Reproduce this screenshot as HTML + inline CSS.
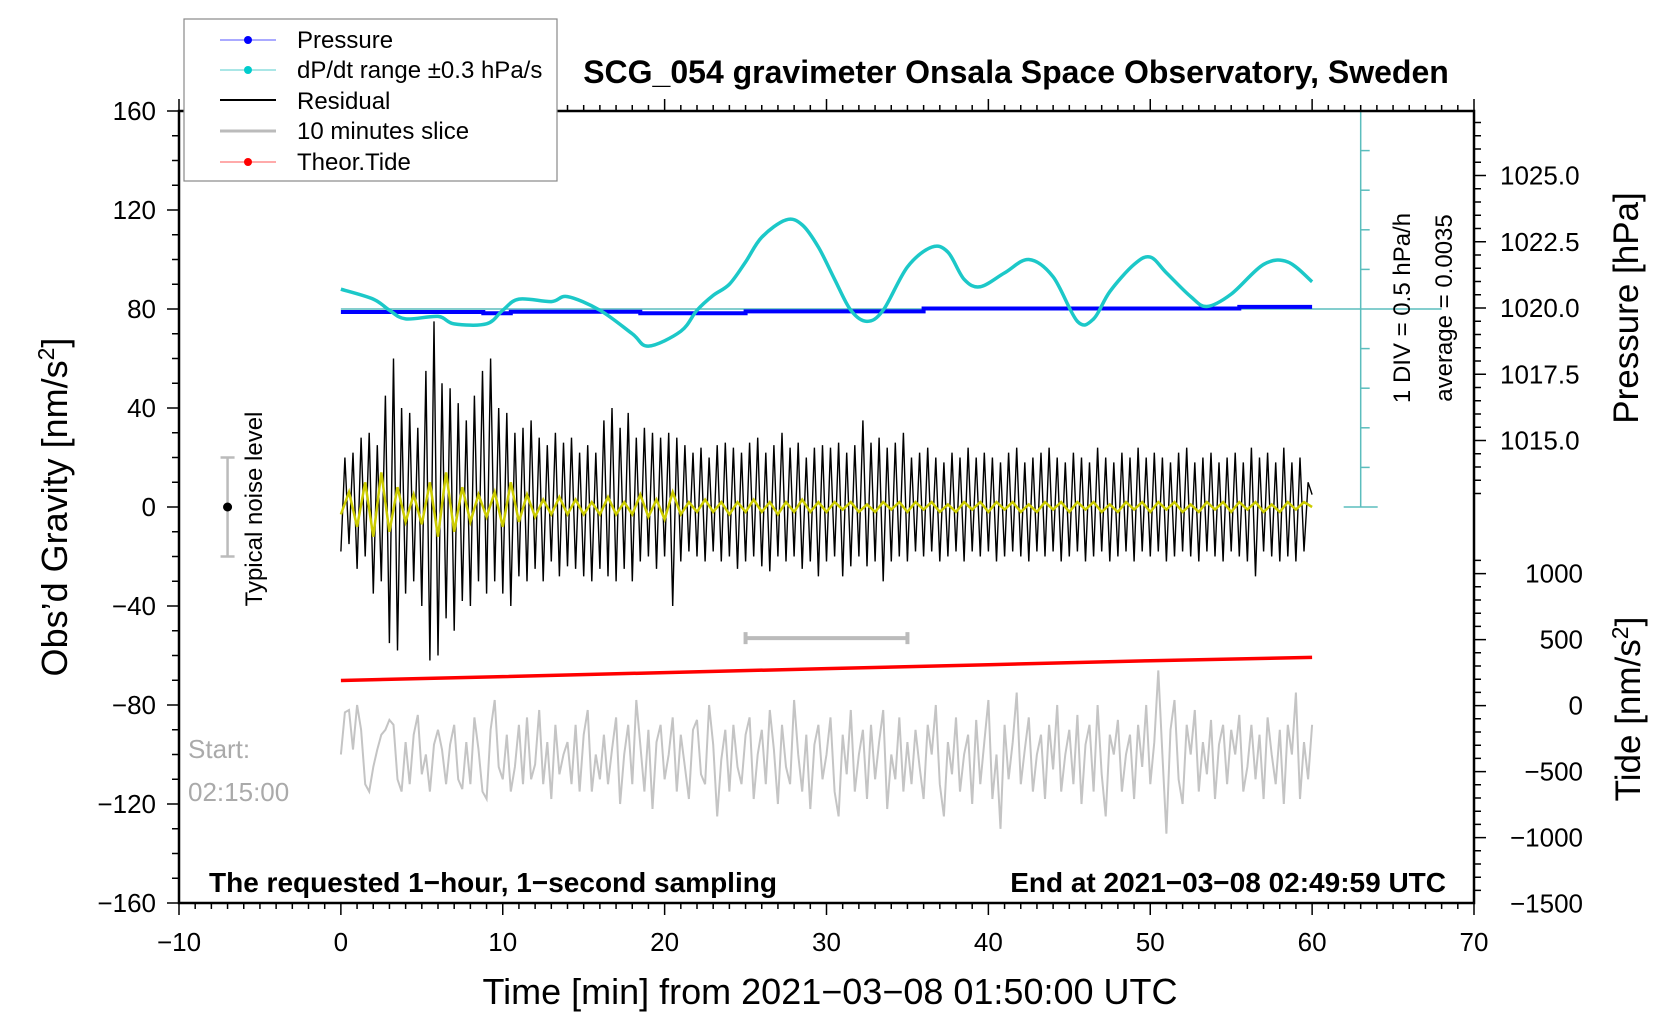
<!DOCTYPE html>
<html><head><meta charset="utf-8">
<style>
html,body{margin:0;padding:0;background:#fff;}
svg{display:block;font-family:"Liberation Sans",sans-serif;}
</style></head>
<body>
<svg id="chart" width="1676" height="1020" viewBox="0 0 1676 1020" xmlns="http://www.w3.org/2000/svg">
<rect width="1676" height="1020" fill="#fff"/>
<g id="marks"></g>
<g id="axes"></g>
<text x="1016" y="83" text-anchor="middle" font-size="32" font-weight="bold">SCG_054 gravimeter Onsala Space Observatory, Sweden</text>
<text x="830" y="1004" text-anchor="middle" font-size="36">Time [min] from 2021−03−08 01:50:00 UTC</text>
<text transform="translate(67,507) rotate(-90)" text-anchor="middle" font-size="36">Obs’d Gravity [nm/s<tspan dy="-13" font-size="23">2</tspan><tspan dy="13">]</tspan></text>
<text transform="translate(1638,308) rotate(-90)" text-anchor="middle" font-size="35">Pressure [hPa]</text>
<text transform="translate(1640,709) rotate(-90)" text-anchor="middle" font-size="35">Tide [nm/s<tspan dy="-12" font-size="23">2</tspan><tspan dy="12">]</tspan></text>
<text x="209" y="892" font-size="28" font-weight="bold">The requested 1−hour, 1−second sampling</text>
<text x="1446" y="892" text-anchor="end" font-size="28" font-weight="bold">End at 2021−03−08 02:49:59 UTC</text>
<text x="188" y="758" font-size="26" fill="#aaa">Start:</text>
<text x="188" y="801" font-size="26" fill="#aaa">02:15:00</text>
<text transform="translate(262,509) rotate(-90)" text-anchor="middle" font-size="24">Typical noise level</text>
<text transform="translate(1410,308) rotate(-90)" text-anchor="middle" font-size="24">1 DIV = 0.5 hPa/h</text>
<text transform="translate(1452,308) rotate(-90)" text-anchor="middle" font-size="24">average = 0.0035</text>
<g>
<rect x="184" y="19" width="373" height="162" fill="#fff" stroke="#888" stroke-width="1.2"/>
<g><line x1="220" y1="40" x2="276" y2="40" stroke="#55f" stroke-width="1"/><circle cx="248" cy="40" r="4" fill="#00f"/><text x="297" y="48" font-size="24">Pressure</text></g>
<g><line x1="220" y1="70" x2="276" y2="70" stroke="#5cc" stroke-width="1"/><circle cx="248" cy="70" r="4" fill="#0cc"/><text x="297" y="78" font-size="24">dP/dt range ±0.3 hPa/s</text></g>
<g><line x1="220" y1="100" x2="276" y2="100" stroke="#000" stroke-width="2"/><text x="297" y="109" font-size="24">Residual</text></g>
<g><line x1="220" y1="131" x2="276" y2="131" stroke="#bbb" stroke-width="3"/><text x="297" y="139" font-size="24">10 minutes slice</text></g>
<g><line x1="220" y1="162" x2="276" y2="162" stroke="#f55" stroke-width="1"/><circle cx="248" cy="162" r="4" fill="#f00"/><text x="297" y="170" font-size="24">Theor.Tide</text></g>
</g>
</svg>
<script>
// ---- data ----
const xTicks = [-10,0,10,20,30,40,50,60,70];
const yTicks = [160,120,80,40,0,-40,-80,-120,-160];
const pressureTicks = [1025.0,1022.5,1020.0,1017.5,1015.0];
const tideTicks = [1000,500,0,-500,-1000,-1500];
const residualStep = 0.25;
const residual = [
-18,20,-15,22,-25,28,-20,30,-35,25,-30,45,-55,60,-58,40,-35,38,-30,32,
-40,55,-62,75,-60,50,-45,48,-50,42,-38,35,-40,45,-30,55,-35,60,-30,40,
-35,38,-40,30,-28,32,-30,35,-25,28,-30,25,-22,30,-28,26,-24,28,-25,22,
-28,25,-30,22,-25,35,-28,40,-30,32,-25,38,-30,28,-22,32,-20,30,-25,28,
-20,30,-40,28,-22,25,-18,22,-20,24,-22,20,-18,25,-22,26,-20,24,-25,22,
-22,26,-20,28,-24,22,-26,25,-20,30,-22,24,-20,26,-25,20,-22,24,-28,25,
-22,24,-20,26,-28,22,-24,25,-20,35,-24,26,-22,28,-30,24,-22,26,-20,30,
-22,20,-18,22,-20,24,-18,20,-22,18,-20,22,-18,20,-22,24,-18,20,-20,22,
-18,20,-22,18,-20,22,-18,24,-20,18,-22,20,-18,22,-20,24,-18,20,-22,18,
-20,22,-18,20,-22,18,-20,24,-18,20,-22,18,-20,22,-18,20,-22,24,-18,20,
-20,22,-18,20,-22,18,-20,22,-18,24,-20,18,-22,20,-18,22,-20,18,-22,20,
-18,22,-20,18,-22,24,-28,20,-18,22,-20,18,-22,24,-20,18,-22,20,-18,10,5];
const filteredStep = 0.5;
const filtered = [
-3,6,-8,10,-12,14,-10,8,-6,5,
-7,10,-12,14,-10,8,-6,5,-4,6,
-8,10,-6,5,-4,3,-3,4,-3,3,
-3,2,-3,4,-3,2,-3,5,-4,3,
-5,6,-3,2,-2,3,-2,2,-3,2,
-2,3,-2,2,-3,2,-2,3,-2,2,
-2,2,-1,2,-2,1,-2,2,-1,2,-2,2,-1,2,-2,1,-2,2,-1,2,
-2,2,-1,2,-2,1,-2,2,-1,2,-2,2,-1,2,-2,1,-2,2,-1,2,
-2,2,-1,2,-2,1,-2,2,-1,2,-2,2,-1,2,-2,1,-2,2,-1,2,0];
const sliceStep = 0.25;
const slice = [
-100,-83,-82,-98,-80,-90,-112,-115,-105,-98,-92,-90,-86,-88,-110,-115,-95,-112,-92,-84,
-108,-100,-115,-96,-90,-98,-112,-96,-88,-110,-114,-95,-112,-85,-98,-115,-118,-90,-78,-105,
-110,-92,-115,-105,-88,-112,-85,-110,-104,-82,-112,-95,-118,-88,-108,-100,-95,-112,-88,-115,
-92,-82,-115,-100,-110,-92,-112,-98,-85,-120,-100,-88,-112,-78,-96,-115,-90,-122,-95,-88,
-110,-100,-85,-115,-92,-105,-118,-90,-86,-108,-112,-80,-96,-125,-102,-90,-115,-88,-105,-112,
-92,-85,-118,-100,-90,-112,-82,-98,-120,-88,-105,-112,-78,-100,-115,-92,-122,-96,-88,-110,
-100,-85,-115,-125,-92,-108,-82,-115,-100,-90,-118,-88,-110,-95,-82,-122,-100,-110,-85,-115,
-95,-112,-90,-105,-118,-88,-100,-80,-112,-125,-95,-108,-85,-115,-100,-92,-120,-86,-112,-95,
-78,-118,-100,-130,-88,-110,-95,-75,-112,-98,-85,-115,-100,-92,-118,-88,-106,-80,-115,-100,
-90,-112,-84,-120,-96,-88,-115,-80,-108,-125,-92,-100,-86,-115,-100,-92,-118,-88,-105,-80,
-112,-95,-66,-100,-132,-90,-78,-110,-120,-88,-100,-82,-115,-95,-108,-86,-118,-96,-88,-112,
-90,-100,-84,-115,-105,-88,-110,-92,-118,-85,-100,-112,-90,-120,-88,-100,-75,-118,-95,-110,-88];
const dpdtMinutes = [0,2,3,4,6,7,9,10,11,13,14,16,18,19,21,22,23,24,25,26,27.5,28.5,29.5,30.5,31.5,32.5,33.5,35,36.5,37.5,38.5,39.5,41,42.5,44,45.5,46.5,47.5,49,50,51,52.5,53.5,55,57,58.5,60];
const dpdtValues = [88,84,79.5,76,77,74,74,79.5,84,83,85,79.5,70,65,71,79.5,85.5,90,99,109,116,114,105,92,79.5,75,79.5,97,105,103,92,89,94.6,100,93,75,76,87,98,101,94.6,85,81,86,98,99,91];
const pressureMinutes = [0,8.8,8.8,10.5,10.5,18.5,18.5,25,25,36,36,55.5,55.5,60];
const pressureValues = [1019.85,1019.85,1019.8,1019.8,1019.86,1019.86,1019.8,1019.8,1019.87,1019.87,1019.98,1019.98,1020.04,1020.04];
const tideMinutes = [0,10,20,30,40,50,60];
const tideValues = [190,220,250,280,310,340,365];
const noiseCenter = 0, noiseHalf = 20, noiseX = -7;
const sliceBarRange = [25,35], sliceBarY = -53;

// ---- scales ----
const L=179,R=1474,T=111,B=903;
const X=m=>L+(m+10)*(R-L)/80;
const Y=g=>507-g*(B-T)/320;
const YP=p=>308-(p-1020)*26.5;
const YT=t=>705.6-t*66/500;
const NS='http://www.w3.org/2000/svg';
const marks=document.getElementById('marks'), axes=document.getElementById('axes');
function mk(tag,attrs,parent){const e=document.createElementNS(NS,tag);for(const k in attrs)e.setAttribute(k,attrs[k]);(parent||marks).appendChild(e);return e;}
function poly(pts){return pts.map(p=>p[0].toFixed(1)+','+p[1].toFixed(1)).join(' ');}

let e=mk('polyline',{points:poly(slice.map((v,i)=>[X(i*sliceStep),Y(v)])),fill:'none',stroke:'#c4c4c4','stroke-width':2});


e=mk('polyline',{points:poly(tideValues.map((v,i)=>[X(tideMinutes[i]),YT(v)])),fill:'none',stroke:'#f00','stroke-width':3.5});


e=mk('path',{d:`M${X(sliceBarRange[0])},${Y(sliceBarY)}H${X(sliceBarRange[1])}M${X(sliceBarRange[0])},${Y(sliceBarY)-6}v12M${X(sliceBarRange[1])},${Y(sliceBarY)-6}v12`,stroke:'#bbb','stroke-width':4,fill:'none'});


e=mk('path',{d:`M${X(noiseX)},${Y(noiseCenter+noiseHalf)}V${Y(noiseCenter-noiseHalf)}M${X(noiseX)-7},${Y(noiseHalf)}h14M${X(noiseX)-7},${Y(-noiseHalf)}h14`,stroke:'#bbb','stroke-width':2.5,fill:'none'});


e=mk('circle',{cx:X(noiseX),cy:Y(noiseCenter),r:4.5,fill:'#000'});


e=mk('polyline',{points:poly(residual.map((v,i)=>[X(i*residualStep),Y(v)])),fill:'none',stroke:'#000','stroke-width':1.4});


e=mk('polyline',{points:poly(filtered.map((v,i)=>[X(i*filteredStep),Y(v)])),fill:'none',stroke:'#cc0','stroke-width':2.5});


const cx=X(63);
e=mk('path',{d:`M${X(0)},${Y(80)}H${X(68)}M${cx},${T}V${Y(0)}M${cx-17},${T}h34M${cx-17},${Y(0)}h34`,stroke:'#5bbdbd','stroke-width':1.5,fill:'none'});


for(let k=1;k<10;k++){if(k===5)continue;e=mk('line',{x1:cx,x2:cx+9,y1:Y(k*16),y2:Y(k*16),stroke:'#5bbdbd','stroke-width':1.5});

}
e=mk('polyline',{points:poly(pressureValues.map((v,i)=>[X(pressureMinutes[i]),YP(v)])),fill:'none',stroke:'#00f','stroke-width':4});


(function(){const p=dpdtValues.map((v,i)=>[X(dpdtMinutes[i]),Y(v)]);let d=`M${p[0][0]},${p[0][1]}`;
for(let i=0;i<p.length-1;i++){const p0=p[i-1]||p[i],p1=p[i],p2=p[i+1],p3=p[i+2]||p2;
d+=`C${p1[0]+(p2[0]-p0[0])/6},${p1[1]+(p2[1]-p0[1])/6} ${p2[0]-(p3[0]-p1[0])/6},${p2[1]-(p3[1]-p1[1])/6} ${p2[0]},${p2[1]}`;}
e=mk('path',{d:d,fill:'none',stroke:'#1cc8c8','stroke-width':3.5});

})();

// ---- axes ----
e=mk('rect',{x:L,y:T,width:R-L,height:B-T,fill:'none',stroke:'#000','stroke-width':2.5},axes);


let d='';
for(let m=-10;m<=70;m++){const big=m%10===0;d+=`M${X(m)},${B}v${big?12:6}M${X(m)},${T}v${big?-12:-6}`;}
for(let g=-160;g<=160;g+=10){d+=`M${L},${Y(g)}h${g%40===0?-12:-7}`;}
for(let p=1013;p<=1027.5;p+=0.5){const y=YP(p);if(y<T||y>Y(0)+20)continue;d+=`M${R},${y}h${Math.abs(p*2%5)<1e-6?12:7}`;}
for(let t=-1500;t<=1100;t+=100){const y=YT(t);if(y>B||y<550)continue;d+=`M${R},${y}h${t%500===0?12:7}`;}
e=mk('path',{d:d,stroke:'#000','stroke-width':1.5,fill:'none'},axes);


xTicks.forEach(v=>{const t=mk('text',{x:X(v),y:951,'text-anchor':'middle','font-size':26},axes);t.textContent=String(v).replace('-','−');

});
yTicks.forEach(v=>{const t=mk('text',{x:156,y:Y(v)+9,'text-anchor':'end','font-size':26},axes);t.textContent=String(v).replace('-','−');

});
pressureTicks.forEach(v=>{const t=mk('text',{x:1500,y:YP(v)+9,'font-size':26},axes);t.textContent=v.toFixed(1);

});
tideTicks.forEach(v=>{const t=mk('text',{x:1583,y:YT(v)+9,'text-anchor':'end','font-size':26},axes);t.textContent=String(v).replace('-','−');

});
</script>
</body></html>
